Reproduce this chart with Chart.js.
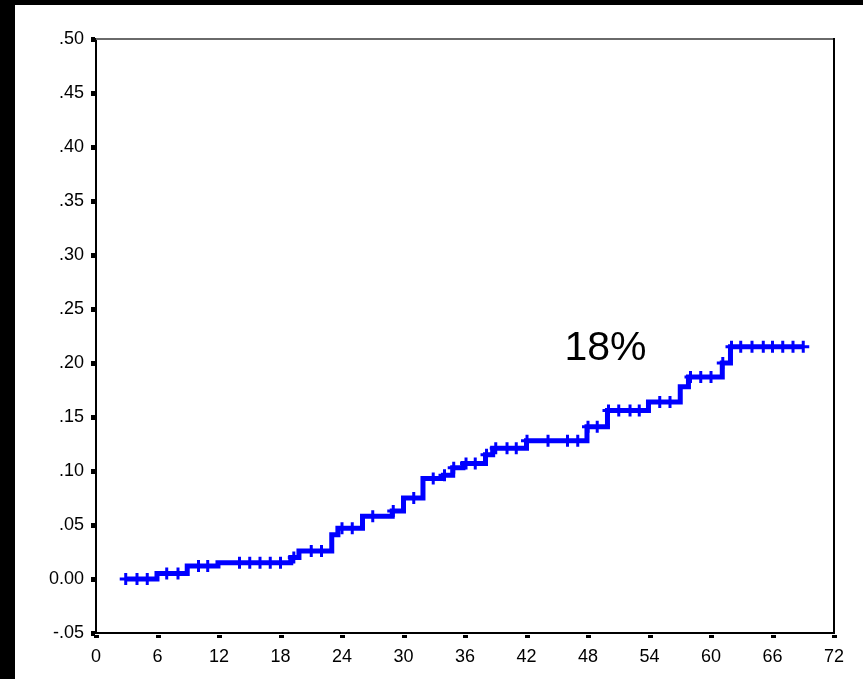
<!DOCTYPE html>
<html>
<head>
<meta charset="utf-8">
<script src="https://cdn.jsdelivr.net/npm/chart.js@4.4.1/dist/chart.umd.min.js"></script>
<style>
  html, body { margin: 0; padding: 0; background: #000; width: 863px; height: 679px; overflow: hidden; }
  #wrap { position: absolute; left: 15px; top: 5px; width: 848px; height: 674px; background: #fff; }
</style>
</head>
<body>
<div id="wrap"><canvas id="kmChart" width="848" height="674"></canvas></div>
<script>
// step points of the cumulative curve (months, proportion)
const eventTimes  = [2.9, 5.95, 8.9, 11.9, 19.0, 19.8, 23.0, 23.6, 26.0, 28.9, 30.0, 31.9, 33.9, 34.8, 35.8, 38.0, 38.7, 42.0, 47.9, 49.9, 53.9, 57.0, 57.8, 61.1, 61.9, 69.0];
const eventValues = [0, 0.005, 0.012, 0.015, 0.020, 0.026, 0.041, 0.047, 0.058, 0.063, 0.075, 0.093, 0.096, 0.103, 0.107, 0.115, 0.121, 0.128, 0.141, 0.156, 0.164, 0.178, 0.187, 0.200, 0.215, 0.215];

// censored cases (+ marks)
const censorTimes = [2.9, 4.0, 5.0, 6.9, 8.0, 10.0, 10.9, 14.0, 15.0, 16.0, 17.0, 18.0, 19.3, 21.0, 22.0, 24.0, 25.0, 27.0, 29.0, 31.0, 32.9, 34.0, 34.9, 36.1, 37.0, 38.1, 39.0, 40.1, 41.0, 42.05, 44.1, 46.0, 47.0, 48.0, 48.9, 50.0, 51.0, 52.1, 53.0, 55.0, 56.0, 58.0, 59.0, 60.0, 61.15, 62.0, 62.9, 64.0, 65.1, 66.0, 67.0, 68.0, 69.0];

const xTicks = [0, 6, 12, 18, 24, 30, 36, 42, 48, 54, 60, 66, 72];
const yTicks = [-0.05, 0, 0.05, 0.10, 0.15, 0.20, 0.25, 0.30, 0.35, 0.40, 0.45, 0.50];
const annotationText = '18%';

const FONT = "'Liberation Sans', Arial, sans-serif";

// value of the step curve at time t
function stepValue(t) {
  let v = eventValues[0];
  for (let i = 0; i < eventTimes.length; i++) {
    if (eventTimes[i] <= t) v = eventValues[i];
  }
  return v;
}

const curvePoints = eventTimes.map((t, i) => ({ x: t, y: eventValues[i] }));
const censorPoints = censorTimes.map(t => ({ x: t, y: stepValue(t) }));

function yLabel(v) {
  const r = Math.round(v * 100) / 100;
  if (r === 0) return '0.00';
  return r.toFixed(2).replace('0.', '.');
}

// frame, square tick marks and the 18% note
const framePlugin = {
  id: 'frame',
  afterDraw(chart) {
    const { ctx, chartArea: a, scales } = chart;
    ctx.save();
    ctx.strokeStyle = '#6a6a6a';
    ctx.lineWidth = 2;
    ctx.beginPath();
    ctx.moveTo(a.left, a.top);
    ctx.lineTo(a.right, a.top);
    ctx.stroke();
    ctx.strokeStyle = '#000';
    ctx.beginPath();
    ctx.moveTo(a.right, a.top - 1);
    ctx.lineTo(a.right, a.bottom);
    ctx.stroke();

    ctx.fillStyle = '#000';
    yTicks.forEach(v => {
      const py = scales.y.getPixelForValue(v);
      ctx.fillRect(a.left - 5, Math.round(py) - 2, 4, 5);
    });
    xTicks.forEach(v => {
      const px = scales.x.getPixelForValue(v);
      ctx.fillRect(Math.round(px) - 2, a.bottom + 2, 5, 3);
    });

    ctx.font = '41px ' + FONT;
    ctx.textAlign = 'left';
    ctx.textBaseline = 'alphabetic';
    ctx.fillText(annotationText, scales.x.getPixelForValue(45.7), scales.y.getPixelForValue(0.203));
    ctx.restore();
  }
};

new Chart(document.getElementById('kmChart'), {
  type: 'scatter',
  data: {
    datasets: [
      {
        data: curvePoints,
        showLine: true,
        stepped: true,
        borderColor: '#0000ff',
        borderWidth: 5,
        pointRadius: 0,
        clip: false
      },
      {
        data: censorPoints,
        showLine: false,
        pointStyle: 'cross',
        pointRadius: 6,
        borderColor: '#0000ff',
        pointBorderWidth: 3,
        clip: false
      }
    ]
  },
  options: {
    responsive: false,
    devicePixelRatio: 1,
    animation: false,
    layout: { padding: { top: 34, right: 29, left: 0, bottom: 0 } },
    plugins: { legend: { display: false }, tooltip: { enabled: false } },
    scales: {
      x: {
        type: 'linear',
        min: 0, max: 72,
        afterBuildTicks: s => { s.ticks = xTicks.map(v => ({ value: v })); },
        afterFit: s => { s.height = 46; },
        grid: { drawOnChartArea: false, drawTicks: false },
        border: { color: '#000', width: 2 },
        ticks: { color: '#000', padding: 13, font: { family: FONT, size: 18 }, maxRotation: 0 }
      },
      y: {
        type: 'linear',
        min: -0.05, max: 0.5,
        afterBuildTicks: s => { s.ticks = yTicks.map(v => ({ value: v })); },
        afterFit: s => { s.width = 81; },
        grid: { drawOnChartArea: false, drawTicks: false },
        border: { color: '#000', width: 2 },
        ticks: { color: '#000', padding: 12, font: { family: FONT, size: 18 }, callback: v => yLabel(v) }
      }
    }
  },
  plugins: [framePlugin]
});
</script>
</body>
</html>
